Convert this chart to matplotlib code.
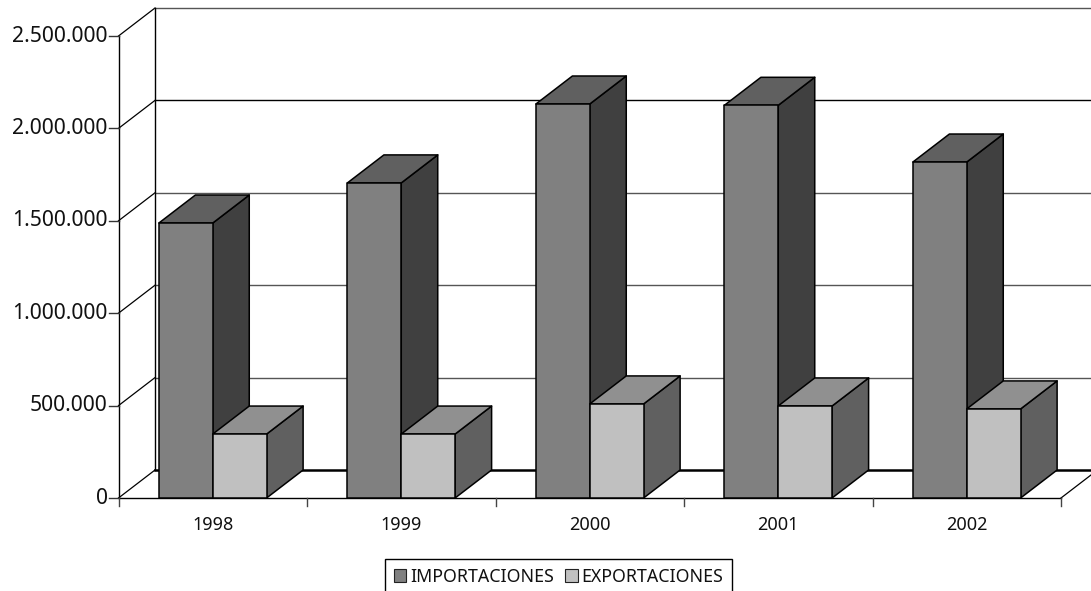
import matplotlib
matplotlib.use("Agg")
import matplotlib.pyplot as plt
from matplotlib.patches import Polygon, Patch

years = ["1998", "1999", "2000", "2001", "2002"]
importaciones = [1488000, 1705000, 2132000, 2125000, 1818000]
exportaciones = [346000, 346000, 509000, 498000, 482000]
y_ticks = [0, 500000, 1000000, 1500000, 2000000, 2500000]
y_labels = ["0", "500.000", "1.000.000", "1.500.000", "2.000.000", "2.500.000"]

W, H = 1091, 591
X0, Y0, CAT_PX = 118.5, 498.0, 188.5
PX_PER_VAL = 462.0 / 2500000
DX = 36.5 / CAT_PX          # depth, in category units
DY = 28.0 / PX_PER_VAL      # depth, in value units
BAR = 1 / 3.5
GAP = 0.75 / 3.5

plt.rcParams["font.family"] = ["Noto Sans", "DejaVu Sans"]
fig = plt.figure(figsize=(W / 100, H / 100), dpi=100)
ax = fig.add_axes([0, 0, 1, 1])
ax.set_xlim(-X0 / CAT_PX, (W - X0) / CAT_PX)
ax.set_ylim(-(H - Y0) / PX_PER_VAL, Y0 / PX_PER_VAL)
ax.axis("off")

top = y_ticks[-1]
n = len(years)
right_end = ax.get_xlim()[1] + 0.1

# back wall and gridlines
for v in y_ticks:
    ax.plot([0, DX], [v, v + DY], color="black", lw=0.9, zorder=1)
    lw = 1.8 if v == 0 else 1.0
    col = "black" if v in (0, 2000000) else "#555555"
    ax.plot([DX, right_end], [v + DY, v + DY], color=col, lw=lw, zorder=1)
ax.plot([DX, DX], [DY, top + DY], color="black", lw=1.0, zorder=1)
ax.plot([n, n + DX], [0, DY], color="black", lw=0.9, zorder=1)

# front axes and ticks
TICK_X = 10 / CAT_PX
TICK_Y = 8 / PX_PER_VAL
ax.plot([0, 0], [0, top], color="black", lw=1.0, zorder=2)
ax.plot([0, n], [0, 0], color="black", lw=1.0, zorder=2)
for v, lab in zip(y_ticks, y_labels):
    ax.plot([-TICK_X, 0], [v, v], color="#333333", lw=1.0, zorder=2)
    ax.text(-TICK_X - 0.005, v, lab, ha="right", va="center", fontsize=15.2, color="#111111")
for i in range(n + 1):
    ax.plot([i, i], [0, -TICK_Y], color="#444444", lw=1.0, zorder=2)
for i, y in enumerate(years):
    ax.text(i + 0.5, -26.5 / PX_PER_VAL, y, ha="center", va="center", fontsize=13, color="#111111")


def bar3d(x, v, front, roof, side, z):
    kw = dict(edgecolor="black", lw=1.1, joinstyle="round", zorder=z)
    ax.add_patch(Polygon([(x + BAR, 0), (x + BAR + DX, DY), (x + BAR + DX, v + DY), (x + BAR, v)], facecolor=side, **kw))
    ax.add_patch(Polygon([(x, v), (x + DX, v + DY), (x + BAR + DX, v + DY), (x + BAR, v)], facecolor=roof, **kw))
    ax.add_patch(Polygon([(x, 0), (x + BAR, 0), (x + BAR, v), (x, v)], facecolor=front, **kw))


for i in range(n):
    bar3d(i + GAP, importaciones[i], "#808080", "#606060", "#404040", 3 + i * 2)
    bar3d(i + GAP + BAR, exportaciones[i], "#C0C0C0", "#909090", "#606060", 4 + i * 2)

handles = [Patch(facecolor="#808080", edgecolor="#222222", lw=0.8, label="IMPORTACIONES"),
           Patch(facecolor="#C0C0C0", edgecolor="#222222", lw=0.8, label="EXPORTACIONES")]
leg = fig.legend(handles=handles, loc="center", bbox_to_anchor=(558.5 / W, 1 - 577 / H), ncols=2,
                 fontsize=12.8, frameon=True, fancybox=False, edgecolor="black", framealpha=1,
                 handlelength=0.72, handleheight=0.72, handletextpad=0.22, columnspacing=0.6,
                 borderpad=0.5, borderaxespad=0, labelcolor="#111111")
leg.get_frame().set_linewidth(1.0)

fig.savefig("out.png", dpi=100, facecolor="white")
